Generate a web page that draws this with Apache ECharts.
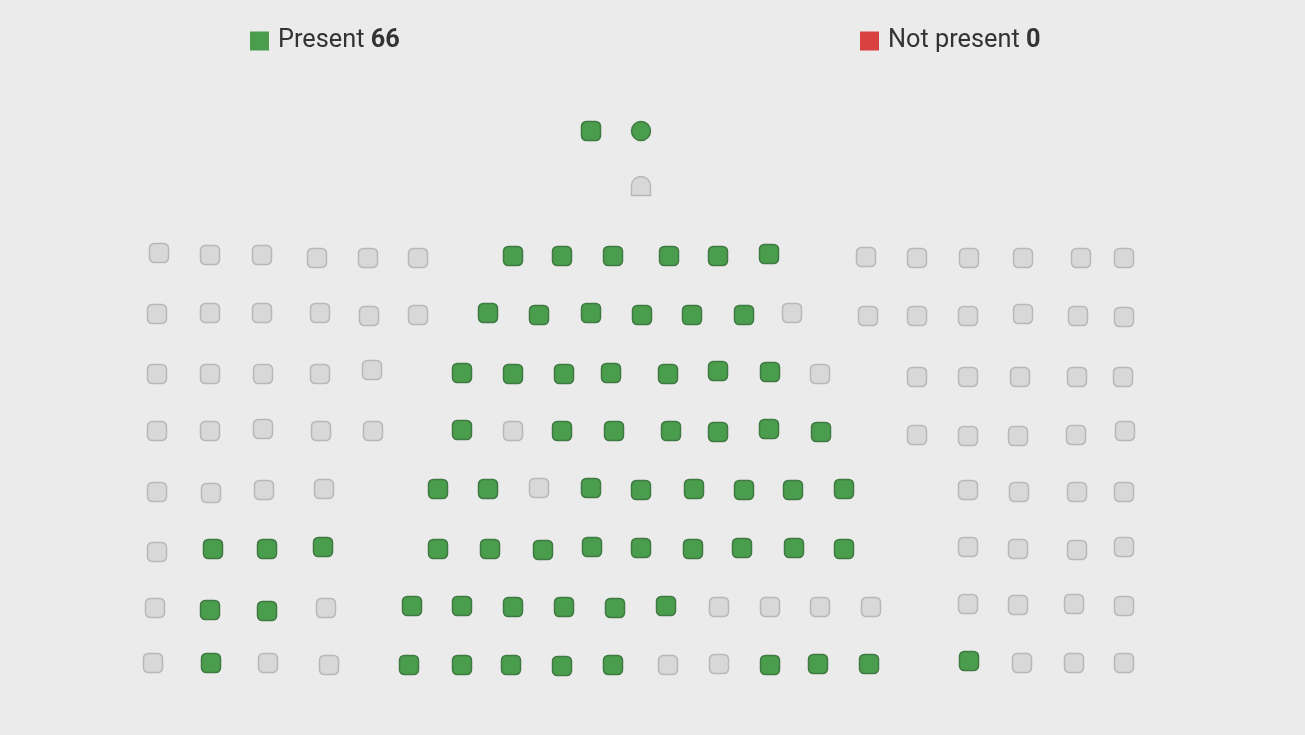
<!DOCTYPE html>
<html><head><meta charset="utf-8">
<script src="https://cdn.jsdelivr.net/npm/echarts@6/dist/echarts.min.js"></script>
<style>html,body{margin:0;padding:0;background:#ebebeb;}#c{width:1305px;height:735px;}</style>
</head><body><div id="c"></div>
<script>
// Seat map data: each seat is [x, y, status] in the chart's plan coordinates (status 1 = present, 0 = vacant)
const legendNames = ['Present', 'Not present'];
const absentCount = 0;
const topSeats = [[591,131,1],[641,131,1]];
const topSeatShapes = ['roundRect','circle'];
const chairSeat = [[641,186,0]];
const row1 = [[159,253,0],[210,255,0],[262,255,0],[317,258,0],[368,258,0],[418,258,0],
  [513,256,1],[562,256,1],[613,256,1],[669,256,1],[718,256,1],[769,254,1],
  [866,257,0],[917,258,0],[969,258,0],[1023,258,0],[1081,258,0],[1124,258,0]];
const row2 = [[157,314,0],[210,313,0],[262,313,0],[320,313,0],[369,316,0],[418,315,0],
  [488,313,1],[539,315,1],[591,313,1],[642,315,1],[692,315,1],[744,315,1],[792,313,0],
  [868,316,0],[917,316,0],[968,316,0],[1023,314,0],[1078,316,0],[1124,317,0]];
const row3 = [[157,374,0],[210,374,0],[263,374,0],[320,374,0],[372,370,0],
  [462,373,1],[513,374,1],[564,374,1],[611,373,1],[668,374,1],[718,371,1],[770,372,1],[820,374,0],
  [917,377,0],[968,377,0],[1020,377,0],[1077,377,0],[1123,377,0]];
const row4 = [[157,431,0],[210,431,0],[263,429,0],[321,431,0],[373,431,0],
  [462,430,1],[513,431,0],[562,431,1],[614,431,1],[671,431,1],[718,432,1],[769,429,1],[821,432,1],
  [917,435,0],[968,436,0],[1018,436,0],[1076,435,0],[1125,431,0]];
const row5 = [[157,492,0],[211,493,0],[264,490,0],[324,489,0],
  [438,489,1],[488,489,1],[539,488,0],[591,488,1],[641,490,1],[694,489,1],[744,490,1],[793,490,1],[844,489,1],
  [968,490,0],[1019,492,0],[1077,492,0],[1124,492,0]];
const row6 = [[157,552,0],[213,549,1],[267,549,1],[323,547,1],
  [438,549,1],[490,549,1],[543,550,1],[592,547,1],[641,548,1],[693,549,1],[742,548,1],[794,548,1],[844,549,1],
  [968,547,0],[1018,549,0],[1077,550,0],[1124,547,0]];
const row7 = [[155,608,0],[210,610,1],[267,611,1],[326,608,0],
  [412,606,1],[462,606,1],[513,607,1],[564,607,1],[615,608,1],[666,606,1],[719,607,0],[770,607,0],[820,607,0],[871,607,0],
  [968,604,0],[1018,605,0],[1074,604,0],[1124,606,0]];
const row8 = [[153,663,0],[211,663,1],[268,663,0],[329,665,0],
  [409,665,1],[462,665,1],[511,665,1],[562,666,1],[613,665,1],[668,665,0],[719,664,0],[770,665,1],[818,664,1],[869,664,1],
  [969,661,1],[1022,663,0],[1074,663,0],[1124,663,0]];

const rows = [row1,row2,row3,row4,row5,row6,row7,row8];
const GREEN = '#4a9d4d', GREEN_B = '#3f7a42';
const GRAY = '#d8d8d8', GRAY_B = '#b8b8b8';
const RED = '#d94141';

const present = [], vacant = [];
topSeats.forEach((s,i)=>{
  const item = {value:[s[0],s[1]], symbol: topSeatShapes[i]};
  (s[2] ? present : vacant).push(item);
});
chairSeat.forEach(s=>{
  (s[2] ? present : vacant).push({value:[s[0],s[1]], symbol:'path://M0,10 L0,5 A5,5 0 0 1 10,5 L10,10 Z', symbolSize:[19,19]});
});
rows.forEach(r=>r.forEach(s=>{
  (s[2] ? present : vacant).push({value:[s[0],s[1]]});
}));
const presentCount = present.length;

const chart = echarts.init(document.getElementById('c'));
const legendText = {fontFamily:'Roboto', fontSize:25.3, color:'#333', lineHeight:26, padding:[0,0,0,4],
  rich:{b:{fontFamily:'Roboto', fontSize:25.3, fontWeight:'bold', color:'#333', lineHeight:26}}};
chart.setOption({
  backgroundColor:'#ebebeb',
  animation:false,
  grid:{left:0,right:0,top:0,bottom:0},
  xAxis:{type:'value',min:0,max:1305,show:false},
  yAxis:{type:'value',min:0,max:735,inverse:true,show:false},
  legend:[
    {data:[{name:legendNames[0], itemStyle:{color:GREEN, borderWidth:0, opacity:1}}],
     left:250, top:28, icon:'rect', itemWidth:19, itemHeight:19, itemGap:8, padding:0,
     selectedMode:false, textStyle:legendText,
     formatter: n => n + ' {b|' + presentCount + '}'},
    {data:[{name:legendNames[1], itemStyle:{color:RED, borderWidth:0, opacity:1}}],
     left:860, top:28, icon:'rect', itemWidth:19, itemHeight:19, itemGap:8, padding:0,
     selectedMode:false, textStyle:legendText,
     formatter: n => n + ' {b|' + absentCount + '}'}
  ],
  series:[
    {name:legendNames[0], type:'scatter', symbol:'roundRect', symbolSize:19,
     itemStyle:{color:GREEN, borderColor:GREEN_B, borderWidth:1.5, opacity:1},
     data:present},
    {name:legendNames[1], type:'scatter', symbol:'roundRect', symbolSize:19,
     itemStyle:{color:RED, borderColor:RED, borderWidth:1.5, opacity:1}, data:[]},
    {name:'vacant', type:'scatter', symbol:'roundRect', symbolSize:19,
     itemStyle:{color:GRAY, borderColor:GRAY_B, borderWidth:1.5, opacity:1},
     data:vacant}
  ]
});
</script></body></html>
